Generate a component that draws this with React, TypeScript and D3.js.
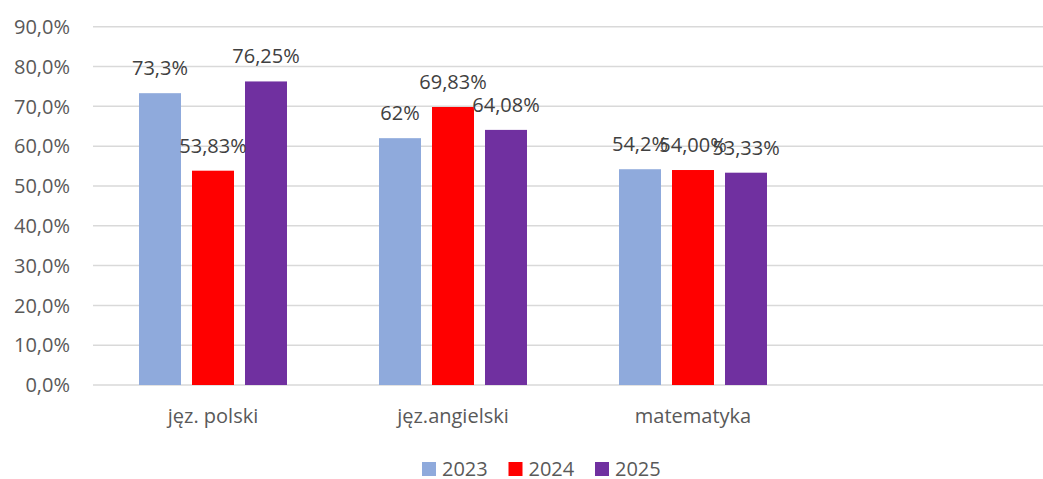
import React from 'react';
import * as d3 from 'd3';

const categories = ['jęz. polski', 'jęz.angielski', 'matematyka', ''];
const years = ['2023', '2024', '2025'];
const values2023 = [73.3, 62, 54.2];
const values2024 = [53.83, 69.83, 54.0];
const values2025 = [76.25, 64.08, 53.33];
const labels2023 = ['73,3%', '62%', '54,2%'];
const labels2024 = ['53,83%', '69,83%', '54,00%'];
const labels2025 = ['76,25%', '64,08%', '53,33%'];
const yTicks = [0, 10, 20, 30, 40, 50, 60, 70, 80, 90];

const colors = ['#8faadc', '#ff0000', '#7030a0'];
const font = "'Open Sans', sans-serif";

const App = () => {
    const width = 1043;
    const height = 479;
    const left = 93;

    const series = [values2023, values2024, values2025];
    const seriesLabels = [labels2023, labels2024, labels2025];

    // 4 slots, the last one is empty like in the source sheet
    const x0 = d3.scaleBand().domain(categories).range([left, left + 240 * categories.length]);
    const x1 = d3.scaleBand().domain(years).range([46, 194]).paddingInner(11 / 53).paddingOuter(0);
    const y = d3.scaleLinear().domain([0, 90]).range([385, 26.7]);
    const fmt = (v: number) => d3.format('.1f')(v).replace('.', ',') + '%';

    const legendX = d3.scalePoint().domain(years).range([422, 595]);

    return (
        <svg width={width} height={height} style={{position: 'absolute', left: 0, top: 0, background: '#fff'}}
             fontFamily={font}>
            <rect width={width} height={height} fill="#fff"/>
            {yTicks.map(t => (
                <g key={t}>
                    <line x1={left} x2={width} y1={y(t)} y2={y(t)} stroke="#d9d9d9" strokeWidth={1.5}/>
                    <text x={70} y={y(t)} dy="0.36em" textAnchor="end" fontSize={20} fill="#595959">{fmt(t)}</text>
                </g>
            ))}
            {categories.map((c, i) => (
                <g key={'c' + i} transform={'translate(' + x0(c) + ',0)'}>
                    {i < 3 && years.map((yr, j) => {
                        const v = series[j][i];
                        const bx = x1(yr) as number;
                        return (
                            <rect key={yr} x={bx} y={y(v)} width={x1.bandwidth()} height={y(0) - y(v)} fill={colors[j]}/>
                        );
                    })}
                    <text x={x0.bandwidth() / 2} y={423} textAnchor="middle" fontSize={20} fill="#595959">{c}</text>
                </g>
            ))}
            {categories.slice(0, 3).map((c, i) => (
                <g key={'l' + i} transform={'translate(' + x0(c) + ',0)'}>
                    {years.map((yr, j) => {
                        const v = series[j][i];
                        const bx = (x1(yr) as number) + x1.bandwidth() / 2;
                        return (
                            <text key={yr} x={bx} y={y(v) - 18} textAnchor="middle" fontSize={20} fill="#404040">
                                {seriesLabels[j][i]}
                            </text>
                        );
                    })}
                </g>
            ))}
            {years.map((yr, j) => (
                <g key={'lg' + yr} transform={'translate(' + legendX(yr) + ',0)'}>
                    <rect x={0} y={462} width={14} height={14} fill={colors[j]}/>
                    <text x={20} y={476} fontSize={20} fill="#595959">{yr}</text>
                </g>
            ))}
        </svg>
    );
};

export default App;
